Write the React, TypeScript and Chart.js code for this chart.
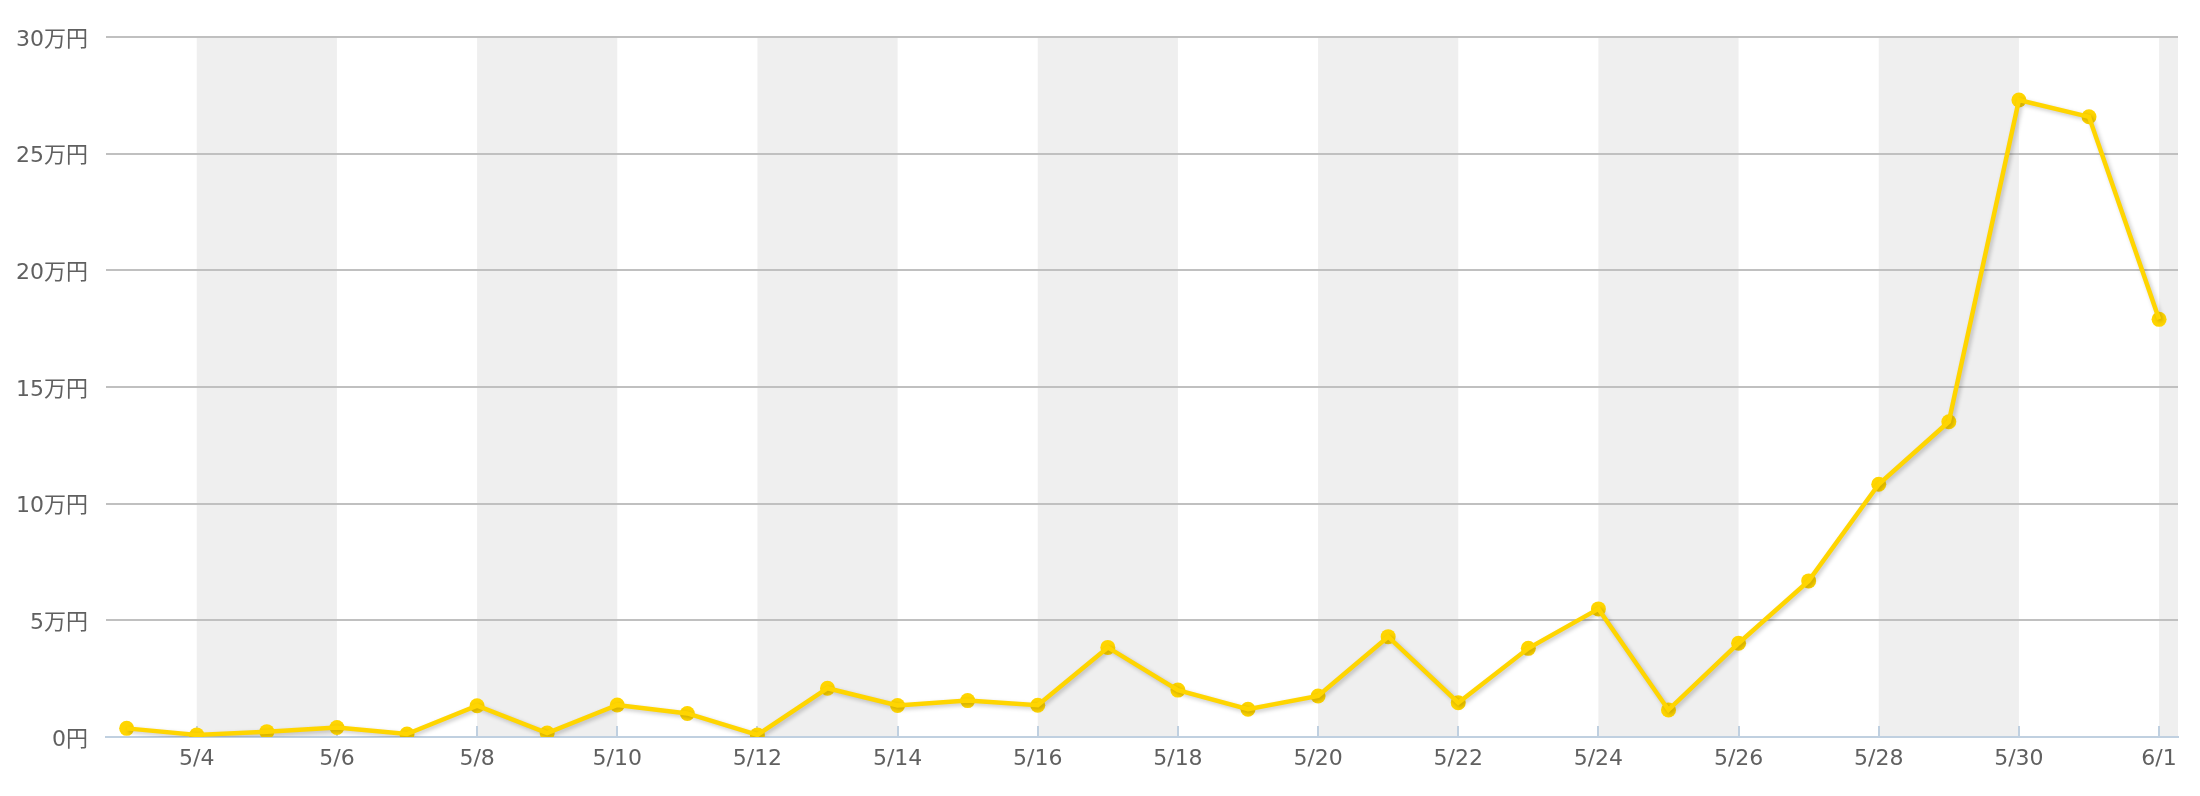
import React, { useEffect, useRef } from "react";
import { Chart, registerables } from "chart.js";

Chart.register(...registerables);

// Dates (5/3 .. 6/1)
const dateLabels = [
  "5/3", "5/4", "5/5", "5/6", "5/7", "5/8", "5/9", "5/10", "5/11", "5/12",
  "5/13", "5/14", "5/15", "5/16", "5/17", "5/18", "5/19", "5/20", "5/21", "5/22",
  "5/23", "5/24", "5/25", "5/26", "5/27", "5/28", "5/29", "5/30", "5/31", "6/1",
];

// Sales in units of 万円
const salesMan = [
  0.37, 0.09, 0.23, 0.41, 0.13, 1.34, 0.17, 1.37, 1.01, 0.09,
  2.09, 1.35, 1.56, 1.36, 3.84, 2.01, 1.19, 1.76, 4.3, 1.47,
  3.8, 5.49, 1.16, 4.02, 6.69, 10.83, 13.51, 27.3, 26.58, 17.9,
];

// x tick positions (indices into dateLabels): 5/4, 5/6, ... 6/1
const xTickIndices = [1, 3, 5, 7, 9, 11, 13, 15, 17, 19, 21, 23, 25, 27, 29];
// y ticks in 万円
const yTickValues = [0, 5, 10, 15, 20, 25, 30];

const LINE_COLOR = "#FFD500";
const FONT_FAMILY = '"DejaVu Sans", "Noto Sans CJK JP", sans-serif';

const bandsPlugin = {
  id: "bands",
  beforeDraw(chart: any) {
    const { ctx, chartArea: a, scales } = chart;
    const x = scales.x;
    const t = x.ticks.map((tk: any) => tk.value);
    ctx.save();
    ctx.fillStyle = "#efefef";
    for (let i = 0; i < t.length; i += 2) {
      const x0 = x.getPixelForValue(t[i]);
      const x1 = i + 1 < t.length ? x.getPixelForValue(t[i + 1]) : a.right;
      ctx.fillRect(x0, a.top, x1 - x0, a.bottom - a.top);
    }
    ctx.restore();
  },
  beforeDatasetsDraw(chart: any) {
    const { ctx, chartArea: a, scales } = chart;
    const x = scales.x;
    ctx.save();
    ctx.strokeStyle = "#C0D0E0";
    ctx.lineWidth = 2;
    for (const tk of x.ticks) {
      const px = Math.round(x.getPixelForValue(tk.value));
      ctx.beginPath();
      ctx.moveTo(px, a.bottom - 11);
      ctx.lineTo(px, a.bottom);
      ctx.stroke();
    }
    ctx.restore();
  },
  beforeDatasetDraw(chart: any, args: any) {
    if (args.index === 0) {
      const ctx = chart.ctx;
      ctx.save();
      ctx.shadowColor = "rgba(0,0,0,0.22)";
      ctx.shadowOffsetX = 2;
      ctx.shadowOffsetY = 2;
      ctx.shadowBlur = 4;
    }
  },
  afterDatasetDraw(chart: any, args: any) {
    if (args.index === 0) {
      chart.ctx.restore();
    }
  },
};

export default function App() {
  const canvasRef = useRef<HTMLCanvasElement | null>(null);

  useEffect(() => {
    const canvas = canvasRef.current;
    if (!canvas) return;
    const points = salesMan.map((v, i) => ({ x: i, y: v }));
    const chart = new Chart(canvas, {
      type: "line",
      data: {
        datasets: [
          {
            data: points,
            borderColor: LINE_COLOR,
            borderWidth: 4.5,
            pointRadius: 0,
            pointHoverRadius: 0,
            tension: 0,
            fill: false,
          },
          {
            data: points,
            showLine: false,
            pointRadius: 7.5,
            pointHoverRadius: 7.5,
            pointBackgroundColor: LINE_COLOR,
            pointBorderWidth: 0,
            borderColor: LINE_COLOR,
          },
        ],
      },
      options: {
        responsive: false,
        animation: false,
        devicePixelRatio: 1,
        layout: { padding: { top: 37, right: 22, left: 0, bottom: 0 } },
        plugins: {
          legend: { display: false },
          tooltip: { enabled: false },
        },
        events: [],
        scales: {
          x: {
            type: "linear",
            min: -0.295,
            max: 29.27,
            afterBuildTicks: (scale: any) => {
              scale.ticks = xTickIndices.map((v) => ({ value: v }));
            },
            afterFit: (scale: any) => {
              scale.height = 59;
            },
            grid: { display: false, drawTicks: false },
            border: { display: true, color: "#C0D0E0", width: 2 },
            ticks: {
              autoSkip: false,
              maxRotation: 0,
              padding: 9,
              color: "#606060",
              font: { size: 22, family: FONT_FAMILY },
              callback: (v: any) => dateLabels[v as number] ?? "",
            },
          },
          y: {
            type: "linear",
            min: 0,
            max: 30,
            afterBuildTicks: (scale: any) => {
              scale.ticks = yTickValues.map((v) => ({ value: v }));
            },
            afterFit: (scale: any) => {
              scale.width = 106;
            },
            grid: { color: "#c0c0c0", lineWidth: 2, drawTicks: false },
            border: { display: false },
            ticks: {
              padding: 18,
              labelOffset: 3,
              color: "#606060",
              font: { size: 22, family: FONT_FAMILY },
              callback: (v: any) => (v === 0 ? "0円" : `${v}万円`),
            },
          },
        },
      },
      plugins: [bandsPlugin],
    });
    return () => chart.destroy();
  }, []);

  return (
    <div style={{ position: "absolute", left: 0, top: 0, width: 2200, height: 796, background: "#fff" }}>
      <canvas ref={canvasRef} width={2200} height={796} style={{ display: "block" }} />
    </div>
  );
}
